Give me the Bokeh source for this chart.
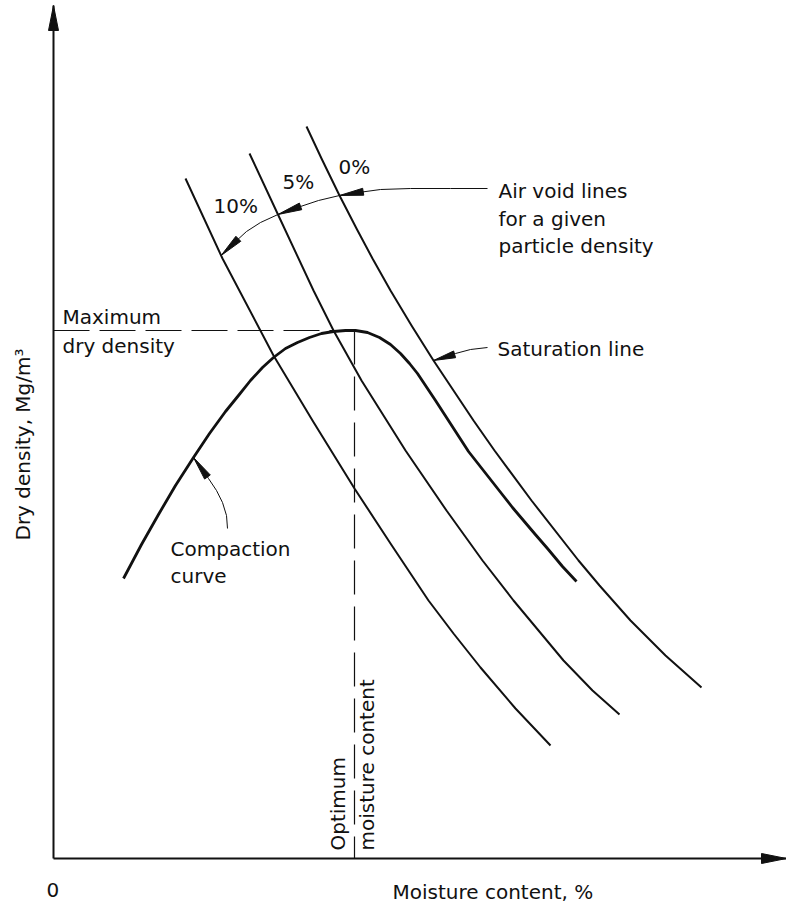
import numpy as np
from bokeh.plotting import figure
from bokeh.models import ColumnDataSource
from bokeh.core.properties import value
from bokeh.embed import file_html
from bokeh.resources import INLINE

# Compaction test schematic (arbitrary units: origin at the axes corner)
compaction_w = [70, 88, 105, 122, 140, 156, 172, 185, 197, 209, 220, 232, 244, 256, 268, 280, 292, 302,
                314, 326, 337, 347, 356, 364, 372, 382, 393, 404, 415, 426, 437, 448, 459, 470, 481,
                494, 509, 523]
compaction_rho = [280, 314, 344, 373, 401, 425, 447, 463, 478, 491, 501, 510, 516, 521, 525, 527, 528, 528,
                  526, 521, 514, 505, 495, 485, 473, 458, 441, 424, 407, 393, 379, 365, 351, 338, 325,
                  310, 292, 277]

# Air void lines for a given particle density
void0_w = [253, 268, 286, 303, 319, 337, 358, 380, 400, 420, 441, 478, 525, 546, 577, 612, 648]
void0_rho = [732, 700, 663, 630, 600, 568, 533, 498, 468, 438, 408, 358, 298, 273, 238, 203, 171]
void5_w = [196, 224, 260, 280, 308, 352, 393, 429, 460, 510, 539, 566]
void5_rho = [705, 645, 568, 528, 478, 408, 348, 298, 258, 198, 168, 144]
void10_w = [132, 169, 220, 259, 301, 337, 375, 400, 427, 462, 497]
void10_rho = [680, 600, 503, 438, 370, 315, 258, 225, 191, 150, 113]
void_labels = ["0%", "5%", "10%"]

optimum_w = 301
max_rho = 528

FONT = value("DejaVu Sans")
INK = "#111111"

p = figure(width=786, height=910, x_range=(-53, 733), y_range=(-52, 858),
           output_backend="svg", toolbar_location=None,
           min_border=0, min_border_left=0, min_border_right=0,
           min_border_top=0, min_border_bottom=0)
p.axis.visible = False
p.grid.visible = False
p.outline_line_color = None
p.background_fill_color = "white"
p.border_fill_color = "white"


def head(tip, toward, length=24, width=7):
    """Filled arrow head with its point at tip, aligned from 'toward' to tip."""
    tip = np.asarray(tip, float)
    d = tip - np.asarray(toward, float)
    u = d / np.hypot(*d)
    n = np.array([-u[1], u[0]])
    base = tip - u * length
    a = base + n * width / 2
    b = base - n * width / 2
    return [tip[0], a[0], b[0]], [tip[1], a[1], b[1]]


def on_curve(ws, rhos, rho):
    """Moisture value where a (monotonic) curve reaches a given density."""
    r = np.asarray(rhos, float)
    w = np.asarray(ws, float)
    order = np.argsort(r)
    return float(np.interp(rho, r[order], w[order])), rho


heads_x, heads_y = [], []

# Axes drawn as arrows
p.line([0, 0], [0, 853], line_color=INK, line_width=2)
p.line([0, 733], [0, 0], line_color=INK, line_width=2)
for tip, toward in [((0, 853), (0, 0)), ((733, 0), (0, 0))]:
    hx, hy = head(tip, toward, length=25, width=10)
    heads_x.append(hx)
    heads_y.append(hy)

# Maximum dry density / optimum moisture content guides
p.line([0, optimum_w - 16], [max_rho, max_rho], line_color=INK, line_width=1.2, line_dash="36 10")
p.line([optimum_w, optimum_w], [max_rho, 0], line_color=INK, line_width=1.2, line_dash="34 12")

# Curves
for ws, rs in [(void0_w, void0_rho), (void5_w, void5_rho), (void10_w, void10_rho)]:
    p.line(ws, rs, line_color=INK, line_width=2, line_join="round")
p.line(compaction_w, compaction_rho, line_color=INK, line_width=2.8, line_join="round")

# Leader for the air void lines, with a head on each line
t0 = on_curve(void0_w, void0_rho, 663)
t5 = on_curve(void5_w, void5_rho, 644)
t10 = on_curve(void10_w, void10_rho, 603)
leader_x = [434, 397, 357, 327, 305, t0[0], 265, 244, t5[0], 207, 193, 181, t10[0]]
leader_y = [670, 670, 670, 669, 666, t0[1], 658, 651, t5[1], 636, 627, 616, t10[1]]
p.line(leader_x, leader_y, line_color=INK, line_width=1, line_join="round")
for tip, toward in [(t0, (305, 666)), (t5, (244, 651)), (t10, (181, 616))]:
    hx, hy = head(tip, toward)
    heads_x.append(hx)
    heads_y.append(hy)

# Saturation line leader
ts = on_curve(void0_w, void0_rho, 498)
p.line([434, 417, 402, ts[0]], [511, 509, 505, ts[1]], line_color=INK, line_width=1)
hx, hy = head(ts, (404, 505), length=22)
heads_x.append(hx)
heads_y.append(hy)

# Compaction curve leader (tip on the dry side of the curve)
tc = on_curve(compaction_w[:17], compaction_rho[:17], 401)
p.line([174, 173, 169, 163, 155, tc[0]], [330, 343, 356, 368, 380, tc[1]],
       line_color=INK, line_width=1, line_join="round")
hx, hy = head(tc, (155, 380))
heads_x.append(hx)
heads_y.append(hy)

p.patches(heads_x, heads_y, fill_color=INK, line_color=INK, line_width=1)

# Texts
labels = ColumnDataSource(dict(
    x=[-7, 339, 445, 445, 445, 444, 9, 9, 117, 117],
    y=[-31, -33, 668, 640, 613, 510, 542, 513, 310, 283],
    t=["0", "Moisture content, %", "Air void lines", "for a given", "particle density",
       "Saturation line", "Maximum", "dry density", "Compaction", "curve"],
))
p.text("x", "y", text="t", source=labels, text_font=FONT, text_font_size="20px",
       text_color=INK, text_baseline="alphabetic", text_align="left")

pct = ColumnDataSource(dict(x=[285, 229, 160], y=[692, 677, 653], t=void_labels))
p.text("x", "y", text="t", source=pct, text_font=FONT, text_font_size="20px",
       text_color=INK, text_baseline="alphabetic", text_align="left")

vert = ColumnDataSource(dict(x=[-31, 284, 313], y=[318, 8, 8],
                             t=["Dry density, Mg/m\u00b3", "Optimum", "moisture content"]))
p.text("x", "y", text="t", source=vert, angle=np.pi / 2, text_font=FONT, text_font_size="20px",
       text_color=INK, text_baseline="alphabetic", text_align="left")

open("out.html", "w").write(file_html(p, INLINE))
